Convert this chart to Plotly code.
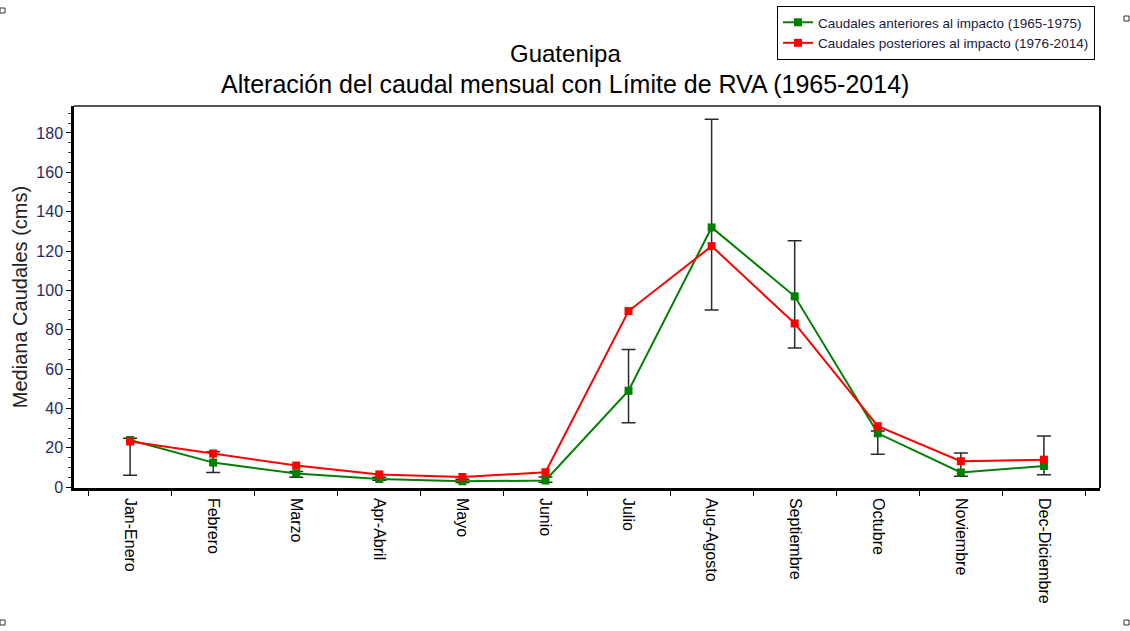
import plotly.graph_objects as go

# Monthly categories
meses = ["Jan-Enero", "Febrero", "Marzo", "Apr-Abril", "Mayo", "Junio",
         "Julio", "Aug-Agosto", "Septiembre", "Octubre", "Noviembre", "Dec-Diciembre"]

# Median monthly flows (cms)
caudal_pre = [24, 12.5, 7, 4.2, 3, 3.4, 49, 132, 97, 27.4, 7.5, 10.8]      # 1965-1975
caudal_post = [23.2, 17.1, 11, 6.5, 5.2, 7.6, 89.5, 122.5, 83.2, 31, 13.2, 14]  # 1976-2014

# RVA limits per month (low / high)
rva_bajo = [6.1, 7.5, 5, 3.5, 2.4, 2.5, 32.7, 90, 70.7, 16.8, 5.6, 6.3]
rva_alto = [24.9, 18, 8, 5, 4, 5.2, 70, 187, 125.2, 28.6, 17.4, 26]

W, H = 1130, 631
L, R, T, B = 74, 30, 106, 143

rva_mid = [(a + b) / 2 for a, b in zip(rva_bajo, rva_alto)]
rva_half = [(b - a) / 2 for a, b in zip(rva_bajo, rva_alto)]

fig = go.Figure()

# RVA limit bars
fig.add_trace(go.Scatter(
    x=meses, y=rva_mid, mode="markers",
    marker=dict(opacity=0, size=1),
    error_y=dict(type="data", array=rva_half, symmetric=True,
                 color="#2a2a2a", thickness=1.5, width=7),
    showlegend=False, hoverinfo="skip"))

fig.add_trace(go.Scatter(
    x=meses, y=caudal_pre, mode="lines+markers",
    name="Caudales anteriores al impacto (1965-1975)",
    line=dict(color="#008000", width=2),
    marker=dict(symbol="square", size=8, color="#008000")))

fig.add_trace(go.Scatter(
    x=meses, y=caudal_post, mode="lines+markers",
    name="Caudales posteriores al impacto (1976-2014)",
    line=dict(color="#ff0000", width=2),
    marker=dict(symbol="square", size=8, color="#ff0000")))


def px(xp):
    return (xp - L) / (W - L - R)


def py(yp):
    return (H - B - yp) / (H - T - B)


shapes = [
    # top and right frame lines
    dict(type="line", xref="paper", yref="paper", x0=0, x1=1, y0=1, y1=1,
         line=dict(color="#555555", width=2)),
    dict(type="line", xref="paper", yref="paper", x0=1, x1=1, y0=0, y1=1,
         line=dict(color="#111111", width=2)),
]
# small corner handles of the canvas
for cx, cy in [(0, 8), (1124, 16), (0, 620), (1124, 620)]:
    shapes.append(dict(type="rect", xref="paper", yref="paper",
                       x0=px(cx), x1=px(cx + 5), y0=py(cy), y1=py(cy + 5),
                       line=dict(color="#333333", width=1)))

annotations = [
    dict(text="Guatenipa", xref="paper", yref="paper", x=px(565), y=py(54),
         xanchor="center", yanchor="middle", showarrow=False,
         font=dict(size=24, color="#000000")),
    dict(text="Alteración del caudal mensual con Límite de RVA (1965-2014)",
         xref="paper", yref="paper", x=px(565), y=py(84),
         xanchor="center", yanchor="middle", showarrow=False,
         font=dict(size=25, color="#000000")),
]

fig.update_layout(
    width=W, height=H,
    margin=dict(l=L, r=R, t=T, b=B, autoexpand=False),
    paper_bgcolor="white", plot_bgcolor="white",
    font=dict(family="Liberation Sans, Arial, sans-serif", color="#000000"),
    shapes=shapes, annotations=annotations,
    showlegend=True,
    legend=dict(x=px(1095), y=py(6), xanchor="right", yanchor="top",
                bordercolor="#000000", borderwidth=1, bgcolor="white",
                font=dict(size=13.5, color="#1a1a40"), tracegroupgap=0,
                itemwidth=30),
)

fig.update_xaxes(
    type="category", categoryorder="array", categoryarray=meses,
    range=[-0.675, 11.675], tickson="boundaries",
    ticks="outside", ticklen=5, tickcolor="#000000", tickwidth=1,
    tickangle=90, tickfont=dict(size=16, color="#000000"),
    ticklabelstandoff=4,
    showline=True, linecolor="#000000", linewidth=2.5,
    showgrid=False, zeroline=False)

fig.update_yaxes(
    range=[-0.4, 193.7], tickvals=[0, 20, 40, 60, 80, 100, 120, 140, 160, 180],
    ticks="outside", ticklen=5, tickcolor="#000000", tickwidth=1,
    minor=dict(dtick=5, ticks="outside", ticklen=3, tickcolor="#444444"),
    tickfont=dict(size=16, color="#2a2a60"),
    showline=True, linecolor="#000000", linewidth=2.5,
    showgrid=False, zeroline=False,
    title=dict(text="Mediana Caudales (cms)", font=dict(size=20, color="#222222"),
               standoff=4))

fig.write_html("out.html")
